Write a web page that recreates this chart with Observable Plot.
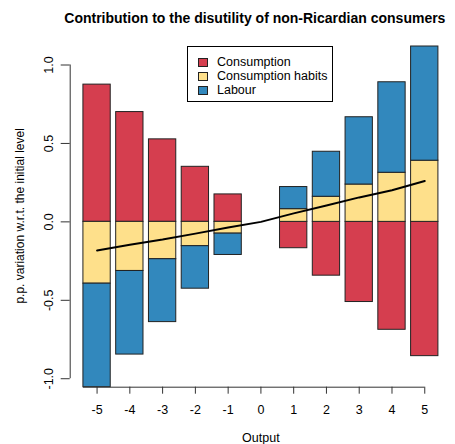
<!DOCTYPE html>
<html>
<head>
<meta charset="utf-8">
<script src="https://cdn.jsdelivr.net/npm/d3@7"></script>
<script src="https://cdn.jsdelivr.net/npm/@observablehq/plot@0.6"></script>
<style>
  html, body { margin: 0; padding: 0; background: #fff; }
  #wrap { position: relative; width: 455px; height: 444px; font-family: Arial, "Liberation Sans", sans-serif; }
  #legend { position: absolute; left: 187px; top: 46px; width: 144px; height: 54px; border: 1px solid #000; background: #fff; box-sizing: content-box; }
  .item { position: absolute; left: 0; height: 14px; font-size: 12.5px; line-height: 14px; color: #000; white-space: nowrap; }
  .sw { position: absolute; left: 10px; top: 3px; width: 8px; height: 7px; border: 1px solid #222; }
  .lab { position: absolute; left: 29px; top: 0; }
</style>
</head>
<body>
<div id="wrap"><div id="chart"></div><div id="legend"></div></div>
<script>
// ---- data ----
const outputs = [-5, -4, -3, -2, -1, 0, 1, 2, 3, 4, 5];
const consumption = [0.875, 0.700, 0.526, 0.351, 0.175, 0, -0.168, -0.343, -0.511, -0.688, -0.856];
const habits      = [-0.394, -0.313, -0.238, -0.155, -0.075, 0, 0.081, 0.160, 0.238, 0.313, 0.390];
const labour      = [-0.660, -0.533, -0.401, -0.271, -0.136, 0, 0.141, 0.287, 0.429, 0.577, 0.728];
const total       = [-0.182, -0.146, -0.113, -0.075, -0.036, 0, 0.054, 0.104, 0.156, 0.202, 0.260];
const seriesNames = ["Consumption", "Consumption habits", "Labour"];
const seriesColors = ["#D53E4F", "#FEE08B", "#3288BD"];
const yTicks = [-1, -0.5, 0, 0.5, 1];
const xTicks = outputs;
const title = "Contribution to the disutility of non-Ricardian consumers";
const yLabel = "p.p. variation w.r.t. the initial level";
const xLabel = "Output";

// ---- layout ----
const barHalf = 0.5 / 1.2;       // barplot width 1, space 0.2
const xDomain = [-5.82, 5.45];
const yDomain = [-1.054, 1.118];

const rows = [];
const seriesValues = [consumption, habits, labour];
seriesNames.forEach((s, k) => outputs.forEach((x, i) => rows.push({x, series: s, value: seriesValues[k][i]})));
const lineData = outputs.map((x, i) => ({x, y: total[i]}));

const font = 'Arial, "Liberation Sans", sans-serif';
const chart = Plot.plot({
  width: 455,
  height: 444,
  marginTop: 46,
  marginBottom: 57.3,
  marginLeft: 69.7,
  marginRight: 16,
  style: {fontFamily: font, fontSize: "12.5px", color: "#000", background: "#fff", overflow: "visible"},
  x: {domain: xDomain, axis: null},
  y: {domain: yDomain, axis: null},
  color: {domain: seriesNames, range: seriesColors},
  marks: [
    Plot.rectY(rows, {x1: d => d.x - barHalf, x2: d => d.x + barHalf, y: "value", fill: "series", stroke: "#222", strokeWidth: 1}),
    Plot.line(lineData, {x: "x", y: "y", stroke: "#000", strokeWidth: 2}),
    // y axis
    Plot.ruleX([xDomain[0]], {y1: yTicks[0], y2: yTicks[yTicks.length - 1], stroke: "#333"}),
    Plot.axisY({ticks: yTicks, anchor: "left", tickSize: 9, tickFormat: () => "", label: null, stroke: "#333", strokeOpacity: 1}),
    Plot.text(yTicks, {y: d => d, frameAnchor: "left", dx: -21.5, rotate: -90, textAnchor: "middle", text: d => d.toFixed(1), fontSize: 12.5, fill: "#000", lineAnchor: "middle"}),
    // x axis
    Plot.ruleY([yDomain[0]], {x1: xTicks[0] - barHalf, x2: xTicks[xTicks.length - 1], stroke: "#333"}),
    Plot.axisX({ticks: xTicks, anchor: "bottom", tickSize: 7, tickFormat: () => "", label: null, stroke: "#333", strokeOpacity: 1}),
    Plot.text(xTicks, {x: d => d, frameAnchor: "bottom", dy: 22.3, text: d => String(d), fontSize: 12.5, fill: "#000", lineAnchor: "middle"}),
    // labels and title
    Plot.text([xLabel], {frameAnchor: "bottom", dx: 6, dy: 50.5, text: d => d, fontSize: 12.5, fill: "#000", lineAnchor: "middle"}),
    Plot.text([yLabel], {frameAnchor: "left", dx: -49.7, dy: -1, rotate: -90, textAnchor: "middle", text: d => d, fontSize: 12, fill: "#000", lineAnchor: "middle"}),
    Plot.text([title], {frameAnchor: "top", dx: 0, dy: -27.7, text: d => d, fontSize: 14, fontWeight: "bold", fill: "#000", lineAnchor: "middle"})
  ]
});
document.getElementById("chart").appendChild(chart);

// legend
const legend = document.getElementById("legend");
seriesNames.forEach((s, i) => {
  const it = document.createElement("div");
  it.className = "item";
  it.style.top = (8 + i * 14) + "px";
  it.innerHTML = `<span class="sw" style="background:${seriesColors[i]}"></span><span class="lab">${s}</span>`;
  legend.appendChild(it);
});
</script>
</body>
</html>
